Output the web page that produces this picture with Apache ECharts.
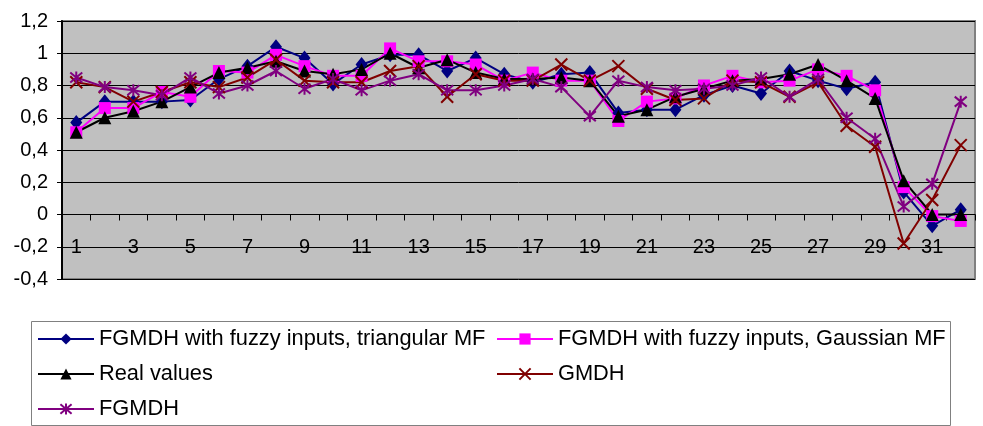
<!DOCTYPE html>
<html><head><meta charset="utf-8">
<script src="https://cdn.jsdelivr.net/npm/echarts@6/dist/echarts.min.js"></script>
<style>html,body{margin:0;padding:0;background:#fff}#c{width:983px;height:426px}</style>
</head><body><div id="c"></div>
<script>
var categories = ['1','2','3','4','5','6','7','8','9','10','11','12','13','14','15','16','17','18','19','20','21','22','23','24','25','26','27','28','29','30','31','32'];
var yTicks = [-0.4, -0.2, 0, 0.2, 0.4, 0.6, 0.8, 1, 1.2];
var triangularMF = [0.57,0.70,0.70,0.70,0.71,0.84,0.92,1.04,0.97,0.81,0.93,0.99,0.99,0.89,0.97,0.87,0.82,0.87,0.88,0.63,0.65,0.65,0.74,0.80,0.75,0.89,0.83,0.78,0.82,0.14,-0.07,0.03];
var gaussianMF = [0.51,0.66,0.66,0.76,0.73,0.89,0.88,0.99,0.92,0.86,0.86,1.03,0.95,0.95,0.93,0.83,0.88,0.83,0.83,0.58,0.70,0.72,0.80,0.86,0.82,0.83,0.90,0.86,0.77,0.17,-0.01,-0.04];
var realValues = [0.51,0.60,0.64,0.70,0.79,0.88,0.91,0.95,0.89,0.87,0.90,1.00,0.91,0.96,0.88,0.84,0.84,0.85,0.83,0.61,0.65,0.73,0.78,0.83,0.84,0.87,0.93,0.83,0.72,0.21,0.00,0.00];
var gmdh = [0.82,0.79,0.70,0.76,0.82,0.79,0.85,0.96,0.83,0.82,0.82,0.89,0.92,0.73,0.87,0.83,0.83,0.93,0.83,0.92,0.78,0.71,0.72,0.83,0.82,0.73,0.82,0.55,0.42,-0.18,0.09,0.43];
var fgmdh = [0.85,0.79,0.77,0.74,0.85,0.75,0.80,0.89,0.78,0.84,0.77,0.83,0.87,0.77,0.77,0.80,0.84,0.79,0.61,0.83,0.79,0.77,0.78,0.80,0.85,0.73,0.84,0.60,0.47,0.05,0.19,0.70];
var names = ['FGMDH with fuzzy inputs, triangular MF','FGMDH with fuzzy inputs, Gaussian MF','Real values','GMDH','FGMDH'];

var chart = echarts.init(document.getElementById('c'), null, {renderer:'canvas'});
var FONT = 'Liberation Sans, Arial, sans-serif';
var GRID_TOP = 21, GRID_BOTTOM = 147, H = 426;
var plotH = H - GRID_TOP - GRID_BOTTOM;
var yMin = yTicks[0], yMax = yTicks[yTicks.length-1];
var zeroOffset = -plotH * (0 - yMin) / (yMax - yMin);
function mk(name, data, color, symbol, size, stroke) {
  return {
    name: name, type: 'line', data: data, symbol: symbol, symbolSize: size,
    lineStyle: {color: color, width: 2},
    itemStyle: stroke ? {color: color, borderColor: color, borderWidth: 2} : {color: color, borderWidth: 0},
    emphasis: {disabled: true}, animation: false
  };
}
var option = {
  backgroundColor: '#fff',
  animation: false,
  grid: {left: 62, right: 8, top: GRID_TOP, bottom: GRID_BOTTOM, show: true, backgroundColor: '#C0C0C0', borderColor: '#808080', borderWidth: 2},
  xAxis: {
    type: 'category', data: categories, boundaryGap: true, offset: zeroOffset,
    axisLine: {onZero: false, lineStyle: {color: '#000', width: 1}},
    axisTick: {show: true, length: 6, interval: 0, lineStyle: {color: '#000'}},
    axisLabel: {interval: 1, margin: 23, color: '#000', fontSize: 20, fontFamily: FONT},
    splitLine: {show: false}
  },
  yAxis: {
    type: 'value', min: yMin, max: yMax, interval: 0.2,
    axisLine: {show: true, lineStyle: {color: '#000', width: 2}},
    axisTick: {show: true, length: 5, lineStyle: {color: '#000'}},
    axisLabel: {margin: 14, color: '#000', fontSize: 20, fontFamily: FONT,
      formatter: function(v){ return String(Math.round(v*10)/10).replace('.', ','); }},
    splitLine: {show: true, lineStyle: {color: '#000', width: 1}}
  },
  legend: [
    {data: [names[0], names[2], names[4]], orient: 'vertical', left: 37, top: 328, itemWidth: 56, itemHeight: 14, itemGap: 13, padding: 0,
     textStyle: {fontSize: 21.8, fontFamily: FONT, color: '#000', lineHeight: 21.5}, selectedMode: false},
    {data: [names[1], names[3]], orient: 'vertical', left: 496, top: 328, itemWidth: 56, itemHeight: 14, itemGap: 13, padding: 0,
     textStyle: {fontSize: 21.8, fontFamily: FONT, color: '#000', lineHeight: 21.5}, selectedMode: false}
  ],
  graphic: [{type: 'rect', shape: {x: 31.5, y: 321.5, width: 919, height: 104}, style: {fill: 'none', stroke: '#808080', lineWidth: 1}, z: 0}],
  series: [
    mk(names[0], triangularMF, '#000080', 'diamond', [12, 15], false),
    mk(names[1], gaussianMF, '#FF00FF', 'rect', 12, false),
    mk(names[2], realValues, '#000000', 'triangle', 13, false),
    mk(names[3], gmdh, '#800000', 'path://M0,0L10,10M10,0L0,10', 12, true),
    mk(names[4], fgmdh, '#800080', 'path://M0,0L10,10M10,0L0,10M5,-1L5,11', 12, true)
  ]
};
chart.setOption(option);
</script></body></html>
